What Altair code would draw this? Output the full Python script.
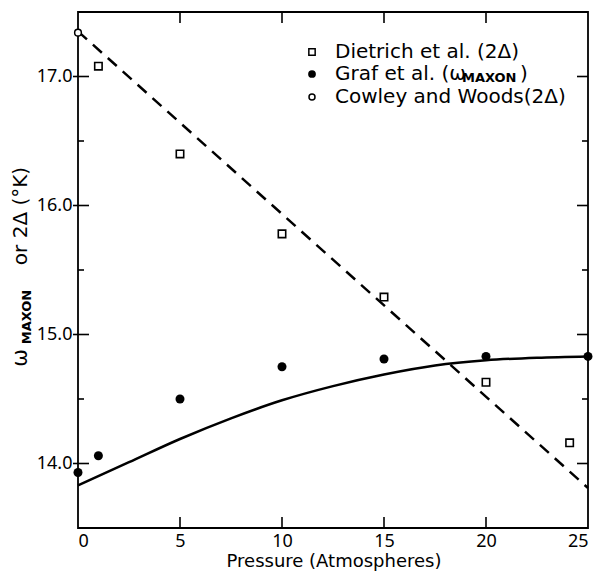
import altair as alt
import pandas as pd

# ---- data ----
diet_p = [1, 5, 10, 15, 20, 24.1]
diet_v = [17.08, 16.40, 15.78, 15.29, 14.63, 14.16]
graf_p = [0, 1, 5, 10, 15, 20, 25]
graf_v = [13.93, 14.06, 14.50, 14.75, 14.81, 14.83, 14.83]
cow_p = [0]
cow_v = [17.34]
dash_p = [0, 25]
dash_v = [17.35, 13.81]
curve_p = [0, 2.5, 5, 7.5, 10, 12.5, 15, 17.5, 20, 22.5, 25]
curve_v = [13.83, 14.01, 14.19, 14.35, 14.49, 14.60, 14.69, 14.76, 14.80, 14.82, 14.83]
y_major = [14.0, 15.0, 16.0, 17.0]
y_minor = [14.5, 15.5, 16.5]
x_labels = [0, 5, 10, 15, 20, 25]
x_major = [5, 10, 15, 20]

W, H = 510, 516
FONT = "Noto Sans"
TFONT = "DejaVu Sans"

xs = alt.Scale(domain=[0, 25], nice=False, zero=False)
ys = alt.Scale(domain=[13.5, 17.5], nice=False, zero=False)

diet = pd.DataFrame({"p": diet_p, "v": diet_v})
graf = pd.DataFrame({"p": graf_p, "v": graf_v})
cow = pd.DataFrame({"p": cow_p, "v": cow_v})
dash = pd.DataFrame({"p": dash_p, "v": dash_v})
curve = pd.DataFrame({"p": curve_p, "v": curve_v})

X = alt.X("p:Q", scale=xs, axis=alt.Axis(values=x_labels, ticks=False, domain=False, grid=False,
                                          labelFontSize=18, labelFont=FONT, labelColor="black", labelPadding=4,
                                          title=None))
Y = alt.Y("v:Q", scale=ys, axis=alt.Axis(values=y_major, format=".1f", ticks=False, domain=False, grid=False,
                                          labelFontSize=18, labelFont=FONT, labelColor="black", labelPadding=6,
                                          title=None))

base_line = alt.Chart(curve).mark_line(color="black", strokeWidth=2.5, interpolate="monotone").encode(x=X, y=Y)
dash_line = alt.Chart(dash).mark_line(color="black", strokeWidth=2.5, strokeDash=[12, 8]).encode(
    x=alt.X("p:Q", scale=xs), y=alt.Y("v:Q", scale=ys))
diet_pts = alt.Chart(diet).mark_point(shape="square", filled=False, color="black", size=55, strokeWidth=1.6,
                                      opacity=1).encode(
    x=alt.X("p:Q", scale=xs), y=alt.Y("v:Q", scale=ys))
graf_pts = alt.Chart(graf).mark_point(shape="circle", filled=True, color="black", size=81, opacity=1).encode(
    x=alt.X("p:Q", scale=xs), y=alt.Y("v:Q", scale=ys))
cow_pts = alt.Chart(cow).mark_point(shape="circle", filled=True, fill="white", stroke="black", size=45,
                                    strokeWidth=1.5, opacity=1).encode(
    x=alt.X("p:Q", scale=xs), y=alt.Y("v:Q", scale=ys))

# inward ticks
ymaj = pd.DataFrame({"v": y_major})
ymin = pd.DataFrame({"v": y_minor})
xmaj = pd.DataFrame({"p": x_major})
tk = dict(color="black", strokeWidth=1.6)
ticks = [
    alt.Chart(ymaj).mark_rule(**tk).encode(y=alt.Y("v:Q", scale=ys), x=alt.value(-5), x2=alt.value(11)),
    alt.Chart(ymin).mark_rule(**tk).encode(y=alt.Y("v:Q", scale=ys), x=alt.value(0), x2=alt.value(6)),
    alt.Chart(ymaj).mark_rule(**tk).encode(y=alt.Y("v:Q", scale=ys), x=alt.value(W - 11), x2=alt.value(W)),
    alt.Chart(ymin).mark_rule(**tk).encode(y=alt.Y("v:Q", scale=ys), x=alt.value(W - 6), x2=alt.value(W)),
    alt.Chart(xmaj).mark_rule(**tk).encode(x=alt.X("p:Q", scale=xs), y=alt.value(H - 11), y2=alt.value(H)),
    alt.Chart(xmaj).mark_rule(**tk).encode(x=alt.X("p:Q", scale=xs), y=alt.value(0), y2=alt.value(11)),
]

# legend
leg_rows = [40, 62, 85]
leg_sym_x = 234
leg_txt_x = 257
one = pd.DataFrame({"a": [0]})
txt = dict(align="left", baseline="middle", font=TFONT, fontSize=20, color="black")
legend = [
    alt.Chart(one).mark_point(shape="square", filled=False, color="black", size=40, strokeWidth=1.5,
                              opacity=1).encode(x=alt.value(leg_sym_x), y=alt.value(leg_rows[0])),
    alt.Chart(one).mark_point(shape="circle", filled=True, color="black", size=60, opacity=1).encode(
        x=alt.value(leg_sym_x), y=alt.value(leg_rows[1])),
    alt.Chart(one).mark_point(shape="circle", filled=True, fill="white", stroke="black", size=36,
                              strokeWidth=1.5, opacity=1).encode(
        x=alt.value(leg_sym_x), y=alt.value(leg_rows[2])),
    alt.Chart(one).mark_text(text="Dietrich  et  al. (2Δ)", **txt).encode(
        x=alt.value(leg_txt_x), y=alt.value(leg_rows[0])),
    alt.Chart(one).mark_text(text="Graf et al. (ω", **txt).encode(
        x=alt.value(leg_txt_x), y=alt.value(leg_rows[1])),
    alt.Chart(one).mark_text(text="MAXON", align="left", baseline="middle", font=TFONT, fontWeight="bold",
                             fontSize=13, color="black").encode(x=alt.value(leg_txt_x + 127),
                                                                 y=alt.value(leg_rows[1] + 4)),
    alt.Chart(one).mark_text(text=")", **txt).encode(
        x=alt.value(leg_txt_x + 185), y=alt.value(leg_rows[1])),
    alt.Chart(one).mark_text(text="Cowley   and   Woods(2Δ)", **txt).encode(
        x=alt.value(leg_txt_x), y=alt.value(leg_rows[2])),
]

# axis titles
ytitle = [
    alt.Chart(one).mark_text(text="ω", angle=270, align="center", baseline="middle", font=TFONT,
                             fontSize=21, color="black").encode(x=alt.value(-57), y=alt.value(346)),
    alt.Chart(one).mark_text(text="MAXON", angle=270, align="center", baseline="middle", font=TFONT,
                             fontWeight="bold", fontSize=13, color="black").encode(x=alt.value(-51), y=alt.value(305)),
    alt.Chart(one).mark_text(text="or  2Δ  (°K)", angle=270, align="center", baseline="middle", font=TFONT,
                             fontSize=20, color="black").encode(x=alt.value(-57), y=alt.value(204)),
]
xtitle = alt.Chart(one).mark_text(text="Pressure (Atmospheres)", align="center", baseline="alphabetic",
                                  font=TFONT, fontSize=18, color="black").encode(
    x=alt.value(W / 2 + 1), y=alt.value(H + 39))

chart = alt.layer(base_line, dash_line, diet_pts, graf_pts, cow_pts, *ticks, *legend, *ytitle, xtitle).properties(
    width=W, height=H,
    autosize=alt.AutoSizeParams(type="none"),
    padding={"left": 70, "top": 4, "right": 5, "bottom": 43},
    background="white",
).configure_view(stroke="black", strokeWidth=1.8)

chart.save("out.html", embed_options={"renderer": "svg", "actions": False})
